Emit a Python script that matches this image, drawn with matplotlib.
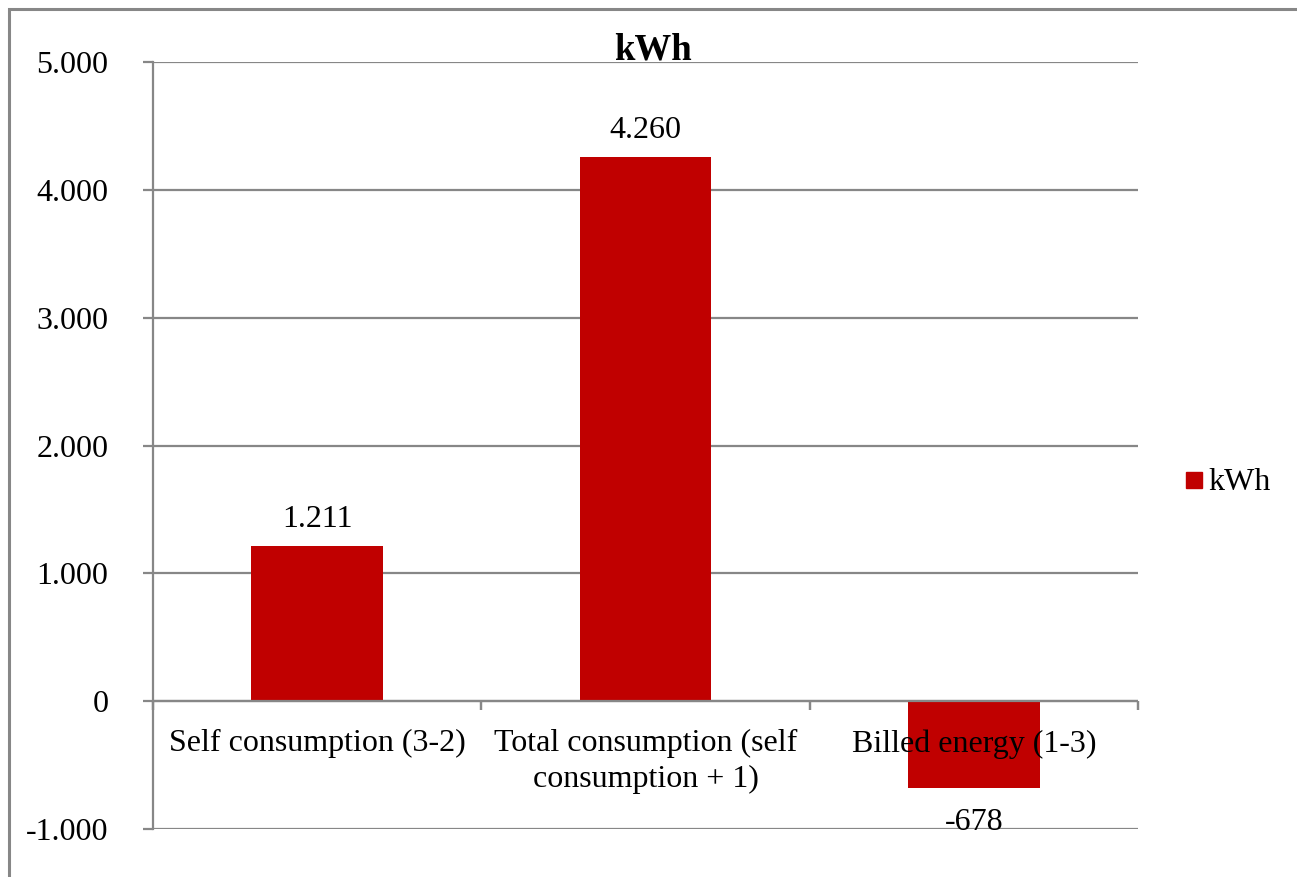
import matplotlib.pyplot as plt
import matplotlib.transforms as mtransforms
from matplotlib.patches import Rectangle
from matplotlib.ticker import FuncFormatter

categories = ["Self consumption (3-2)", "Total consumption (self\nconsumption + 1)", "Billed energy (1-3)"]
values = [1211, 4260, -678]
series_name = "kWh"
yticks = [-1000, 0, 1000, 2000, 3000, 4000, 5000]

BAR = "#C00000"
GRID = "#878787"
FS = 23

plt.rcParams["font.family"] = ["Liberation Serif", "DejaVu Serif"]

W, H = 1297, 877
fig = plt.figure(figsize=(W / 100, H / 100), dpi=100)

# chart border
fig.patches.append(Rectangle((8.5 / W, -0.01), 1.02, 1 - 8.5 / H + 0.01, transform=fig.transFigure,
                             fill=False, edgecolor=GRID, lw=2.2))

ax = fig.add_axes([153 / W, 1 - 829 / H, (1138 - 153) / W, (829 - 62) / H])
x = list(range(len(categories)))
ax.bar(x, values, width=0.4, color=BAR, zorder=3)
ax.set_xlim(-0.5, len(categories) - 0.5)
ax.set_ylim(yticks[0], yticks[-1])
ax.set_yticks(yticks)
ax.yaxis.set_major_formatter(FuncFormatter(lambda v, p: f"{int(v):,}".replace(",", ".")))
ax.tick_params(axis="y", length=7.2, width=1.6, color=GRID, labelsize=FS, pad=25)
ax.grid(axis="y", color=GRID, lw=1.6, zorder=0)
for s in ["top", "right", "bottom"]:
    ax.spines[s].set_visible(False)
ax.spines["left"].set_color(GRID)
ax.spines["left"].set_linewidth(1.6)
ax.set_xticks([])

# category axis at zero, with ticks between categories
ax.axhline(0, color=GRID, lw=1.6, zorder=4)
tick_len = 9 * 72 / 100
for b in [-0.5, 0.5, 1.5, 2.5]:
    ax.plot([b, b], [0, 0], marker=3, markersize=tick_len, color=GRID, mew=1.6, zorder=4, clip_on=False)

down = mtransforms.offset_copy(ax.transData, fig=fig, x=0, y=-28, units="dots")
for i, lab in enumerate(categories):
    ax.text(i, 0, lab, transform=down, ha="center", va="top", fontsize=FS, linespacing=1.3, zorder=5)

# data labels
for i, v in enumerate(values):
    off = 12 if v >= 0 else -20
    tr = mtransforms.offset_copy(ax.transData, fig=fig, x=0, y=off, units="dots")
    ax.text(i, v, f"{v:,}".replace(",", "."), transform=tr, ha="center",
            va="bottom" if v >= 0 else "top", fontsize=FS, zorder=5)

fig.text(653 / W, 1 - 50 / H, series_name, ha="center", va="center", fontsize=26.5, fontweight="bold")

# legend
fig.patches.append(Rectangle((1186 / W, 1 - 488 / H), 16 / W, 16 / H, transform=fig.transFigure,
                             color=BAR))
fig.text(1208 / W, 1 - 482 / H, series_name, ha="left", va="center", fontsize=FS)

fig.savefig("out.png", dpi=100)
